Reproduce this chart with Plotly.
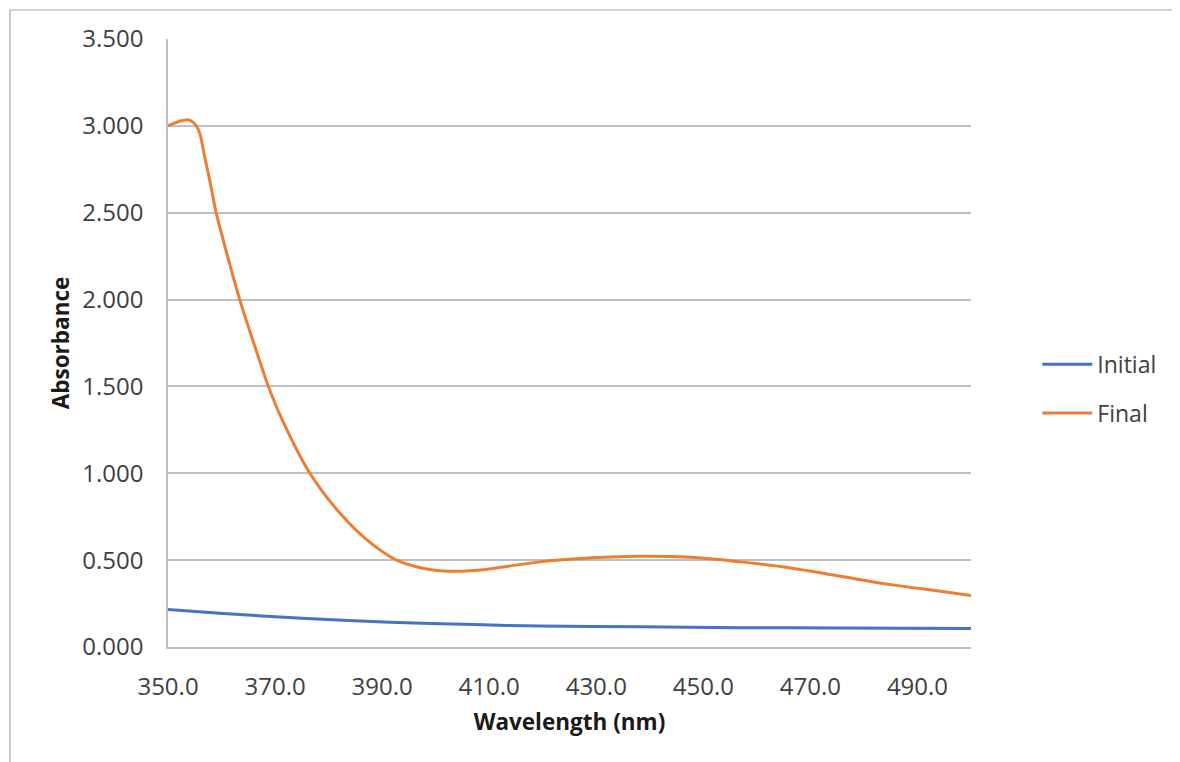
import plotly.graph_objects as go

# Data
final_wl = [350.0, 352.0, 353.8, 354.7, 355.4, 356.0, 356.6, 357.9, 359.0, 360.0,
            363.4, 367.1, 368.75, 371.6, 376.5, 382.1, 387.1, 392.7, 398.3, 402.7,
            408.3, 413.3, 419.5, 427.0, 438.2, 447.6, 456.9, 466.3, 475.6, 485.0,
            494.3, 500.0]
final_abs = [3.000, 3.025, 3.035, 3.020, 2.995, 2.950, 2.860, 2.670, 2.500, 2.380,
             2.000, 1.650, 1.500, 1.290, 1.000, 0.771, 0.618, 0.500, 0.449, 0.436,
             0.443, 0.464, 0.490, 0.509, 0.522, 0.516, 0.490, 0.455, 0.407, 0.359,
             0.321, 0.296]

initial_wl = [350.0, 360.3, 375.9, 391.5, 407.1, 419.5, 438.2, 456.9, 475.0, 500.0]
initial_abs = [0.216, 0.193, 0.164, 0.143, 0.129, 0.121, 0.116, 0.111, 0.110, 0.106]

x_ticks = [350, 370, 390, 410, 430, 450, 470, 490]
y_ticks = [0, 0.5, 1.0, 1.5, 2.0, 2.5, 3.0, 3.5]

FONT = "Open Sans"
TXT = "#404040"

fig = go.Figure()
fig.add_trace(go.Scatter(x=initial_wl, y=initial_abs, mode="lines", name="Initial",
                         legendgroup="a",
                         line=dict(color="#4472C4", width=3, shape="spline", smoothing=0.8)))
fig.add_trace(go.Scatter(x=final_wl, y=final_abs, mode="lines", name="Final",
                         legendgroup="b",
                         line=dict(color="#ED7D31", width=3, shape="spline", smoothing=1.0)))

# page body has an 8px margin, so work in page pixels minus 8
OFF = 8
W, H = 1180 - OFF, 762 - OFF
L = 168 - OFF
T = 39 - OFF
R = W - (970.7 - OFF)
B = H - (647.5 - OFF)
ph = H - T - B
pw = W - L - R

def px_to_paper_x(px):
    return (px - OFF - L) / pw

def py_to_paper_y(py):
    return (H - B - (py - OFF)) / ph

fig.update_layout(
    width=W, height=H,
    margin=dict(l=L, r=R, t=T, b=B, pad=0),
    paper_bgcolor="white", plot_bgcolor="white",
    font=dict(family=FONT, size=24, color=TXT),
    showlegend=True,
    legend=dict(x=px_to_paper_x(1037), y=py_to_paper_y(343), xanchor="left", yanchor="top",
                font=dict(family=FONT, size=23, color=TXT),
                traceorder="grouped", tracegroupgap=16, itemwidth=50,
                bgcolor="rgba(0,0,0,0)"),
    xaxis=dict(range=[350, 500], tickvals=x_ticks, ticktext=[f"{v:.1f}" for v in x_ticks],
               showgrid=False, zeroline=False, showline=True, linecolor="#BFBFBF", linewidth=1.5,
               ticks="", ticklabelstandoff=17,
               tickfont=dict(family=FONT, size=24, color=TXT),
               title=dict(text="<b>Wavelength (nm)</b>", standoff=14,
                          font=dict(family=FONT, size=22.5, color="#1a1a1a"))),
    yaxis=dict(range=[0, 3.5], tickvals=y_ticks, ticktext=[f"{v:.3f}" for v in y_ticks],
               showgrid=True, gridcolor="#BFBFBF", gridwidth=1.5, zeroline=False,
               showline=True, linecolor="#BFBFBF", linewidth=1.5,
               ticks="", ticklabelstandoff=18,
               tickfont=dict(family=FONT, size=24, color=TXT),
               title=dict(text="<b>Absorbance</b>", standoff=6,
                          font=dict(family=FONT, size=22.5, color="#1a1a1a"))),
    shapes=[
        dict(type="line", xref="paper", yref="paper",
             x0=px_to_paper_x(10), x1=px_to_paper_x(1200),
             y0=py_to_paper_y(10), y1=py_to_paper_y(10),
             line=dict(color="#A6A6A6", width=1.2)),
        dict(type="line", xref="paper", yref="paper",
             x0=px_to_paper_x(10), x1=px_to_paper_x(10),
             y0=py_to_paper_y(10), y1=py_to_paper_y(780),
             line=dict(color="#A6A6A6", width=1.2)),
    ],
)

fig.write_html("out.html")
